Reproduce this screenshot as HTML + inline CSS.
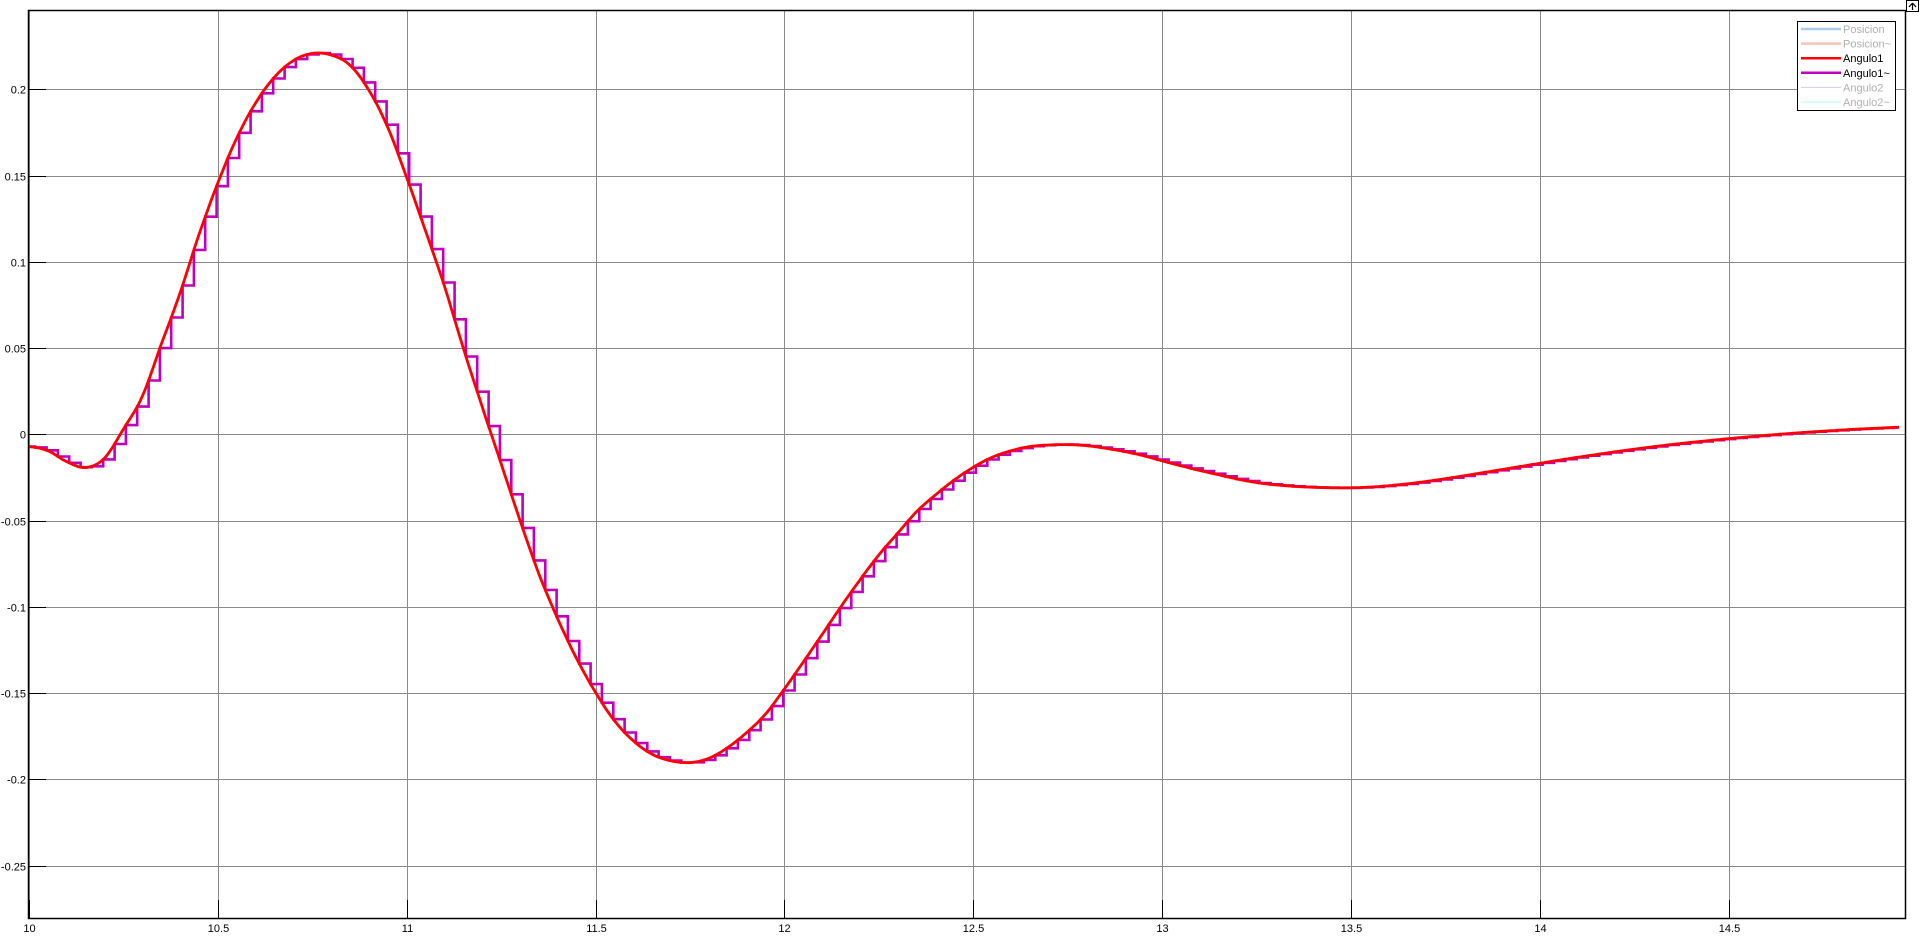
<!DOCTYPE html>
<html><head><meta charset="utf-8"><style>
html,body{margin:0;padding:0;background:#fff;}
svg{display:block;font-family:"Liberation Sans",sans-serif;}
</style></head><body>
<svg id="chart" width="1920" height="938" viewBox="0 0 1920 938" xmlns="http://www.w3.org/2000/svg">
<g id="grid"></g>
<g id="ticks"></g>
<g id="series"></g>
<rect x="28.5" y="10.5" width="1877" height="908" fill="none" stroke="#000" stroke-width="1.5"/>
<g>
<rect x="1797.5" y="21.5" width="98" height="89" fill="#fff" stroke="#000" stroke-width="1"/>
<g id="legend-items"></g>
</g>
<g>
<rect x="1906.5" y="0.5" width="12" height="11" fill="#fff" stroke="#000"/>
<path d="M912.5 3 L909 7 M912.5 3 L916 7 M912.5 3 L912.5 10" transform="translate(1000,0)" stroke="#000" stroke-width="1.2" fill="none"/>
</g>
</svg>
<script>
const xTicks = [10,10.5,11,11.5,12,12.5,13,13.5,14,14.5];
const xTickLabels = ["10","10.5","11","11.5","12","12.5","13","13.5","14","14.5"];
const yTicks = [0.2,0.15,0.1,0.05,0,-0.05,-0.1,-0.15,-0.2,-0.25];
const yTickLabels = ["0.2","0.15","0.1","0.05","0","-0.05","-0.1","-0.15","-0.2","-0.25"];
const t0 = 10, dt = 0.05;
const angulo1 = [-0.0071,-0.0095,-0.0158,-0.0193,-0.0139,0.0029,0.0218,0.0518,0.0817,0.1155,
0.1455,0.1716,0.192,0.207,0.2166,0.2208,0.2199,0.214,0.1995,0.178,
0.149,0.118,0.086,0.050,0.016,-0.0169,-0.0498,-0.0808,-0.107,-0.130,
-0.1496,-0.166,-0.1777,-0.1855,-0.1893,-0.1903,-0.1878,-0.1816,-0.1729,-0.1622,
-0.1476,-0.132,-0.116,-0.0998,-0.0844,-0.0699,-0.0573,-0.0448,-0.0351,-0.0264,
-0.0191,-0.0133,-0.0095,-0.0071,-0.0062,-0.006,-0.0066,-0.0081,-0.010,-0.0124,
-0.0154,-0.0183,-0.021,-0.0235,-0.026,-0.028,-0.0293,-0.0302,-0.0307,-0.031,
-0.031,-0.0306,-0.0298,-0.0287,-0.0273,-0.0257,-0.024,-0.0222,-0.0204,-0.0186,
-0.0168,-0.015,-0.0133,-0.0117,-0.0101,-0.0086,-0.0072,-0.0059,-0.0047,-0.0036,
-0.0025,-0.0015,-0.0006,0.0003,0.0011,0.0018,0.0025,0.0031,0.0036,0.0041];
const samplePeriod = 0.03, sampleStart = 10.017;
const legendLabels = ["Posicion","Posicion~","Angulo1","Angulo1~","Angulo2","Angulo2~"];
const legendColors = ["#a9cfe8","#f4c4b4","#ff0000","#c000c0","#d8c8f0","#b0ffff"];

const NS="http://www.w3.org/2000/svg";
const X0=28.8, XS=377.8, Y0=434.3, YS=1725;
const xs=t=>X0+(t-10)*XS, ys=v=>Y0-v*YS;
function mk(tag,attrs,parent){const e=document.createElementNS(NS,tag);for(const k in attrs)e.setAttribute(k,attrs[k]);parent.appendChild(e);return e;}
const grid=document.getElementById('grid'), ticks=document.getElementById('ticks'), series=document.getElementById('series');
xTicks.forEach((t,i)=>{
  const x=Math.round(xs(t))+0.5;
  const g=mk('line',{x1:x,x2:x,y1:10,y2:918,stroke:'#8a8a8a','stroke-width':1},grid);
  
  
  const tk=mk('line',{x1:x,x2:x,y1:900,y2:918,stroke:'#000','stroke-width':1},ticks);
  
  
  const tx=mk('text',{x:x,y:932,'font-size':11,'text-anchor':'middle',fill:'#000'},ticks);
  tx.textContent=xTickLabels[i];
  
  
});
yTicks.forEach((v,i)=>{
  const y=Math.round(ys(v))+0.5;
  const g=mk('line',{x1:28,x2:1906,y1:y,y2:y,stroke:'#8a8a8a','stroke-width':1},grid);
  
  
  const tk=mk('line',{x1:28,x2:46,y1:y,y2:y,stroke:'#000','stroke-width':1},ticks);
  
  
  const tx=mk('text',{x:26,y:y+4,'font-size':11,'text-anchor':'end',fill:'#000'},ticks);
  tx.textContent=yTickLabels[i];
  
  
});
function valAt(t){
  const f=(t-t0)/dt; let i=Math.floor(f); if(i<0)return angulo1[0]; if(i>=angulo1.length-1)return angulo1[angulo1.length-1];
  const p0=angulo1[Math.max(i-1,0)],p1=angulo1[i],p2=angulo1[i+1],p3=angulo1[Math.min(i+2,angulo1.length-1)],u=f-i;
  return 0.5*((2*p1)+(-p0+p2)*u+(2*p0-5*p1+4*p2-p3)*u*u+(-p0+3*p1-3*p2+p3)*u*u*u);
}
const tEnd=t0+dt*(angulo1.length-1);
let d='M'+xs(10).toFixed(1)+' '+ys(angulo1[0]).toFixed(1);
let prev=angulo1[0];
for(let ts=sampleStart; ts<=tEnd; ts+=samplePeriod){
  const v=valAt(ts);
  d+=' L'+xs(ts).toFixed(1)+' '+ys(prev).toFixed(1)+' L'+xs(ts).toFixed(1)+' '+ys(v).toFixed(1);
  prev=v;
}
d+=' L'+xs(tEnd).toFixed(1)+' '+ys(prev).toFixed(1);
const mag=mk('path',{d:d,fill:'none',stroke:'#c000c0','stroke-width':2.6,'stroke-linejoin':'miter'},series);


let d2='';
for(let t=t0;t<=tEnd+1e-9;t+=0.005){d2+=(d2?' L':'M')+xs(t).toFixed(1)+' '+ys(valAt(t)).toFixed(1);}
const red=mk('path',{d:d2,fill:'none',stroke:'#ff0000','stroke-width':2.8},series);


const li=document.getElementById('legend-items');
legendLabels.forEach((lab,i)=>{
  const y=29+i*14.6;
  const active=(i===2||i===3);
  const ln=mk('line',{x1:1801,x2:1841,y1:y,y2:y,stroke:legendColors[i],'stroke-width':active?2.5:(i<2?2.5:1)},li);
  
  
  const tx=mk('text',{x:1843,y:y+4,'font-size':11,fill:active?'#000':'#b0b0b0'},li);
  tx.textContent=lab;
  
  
});
</script>
</body></html>
